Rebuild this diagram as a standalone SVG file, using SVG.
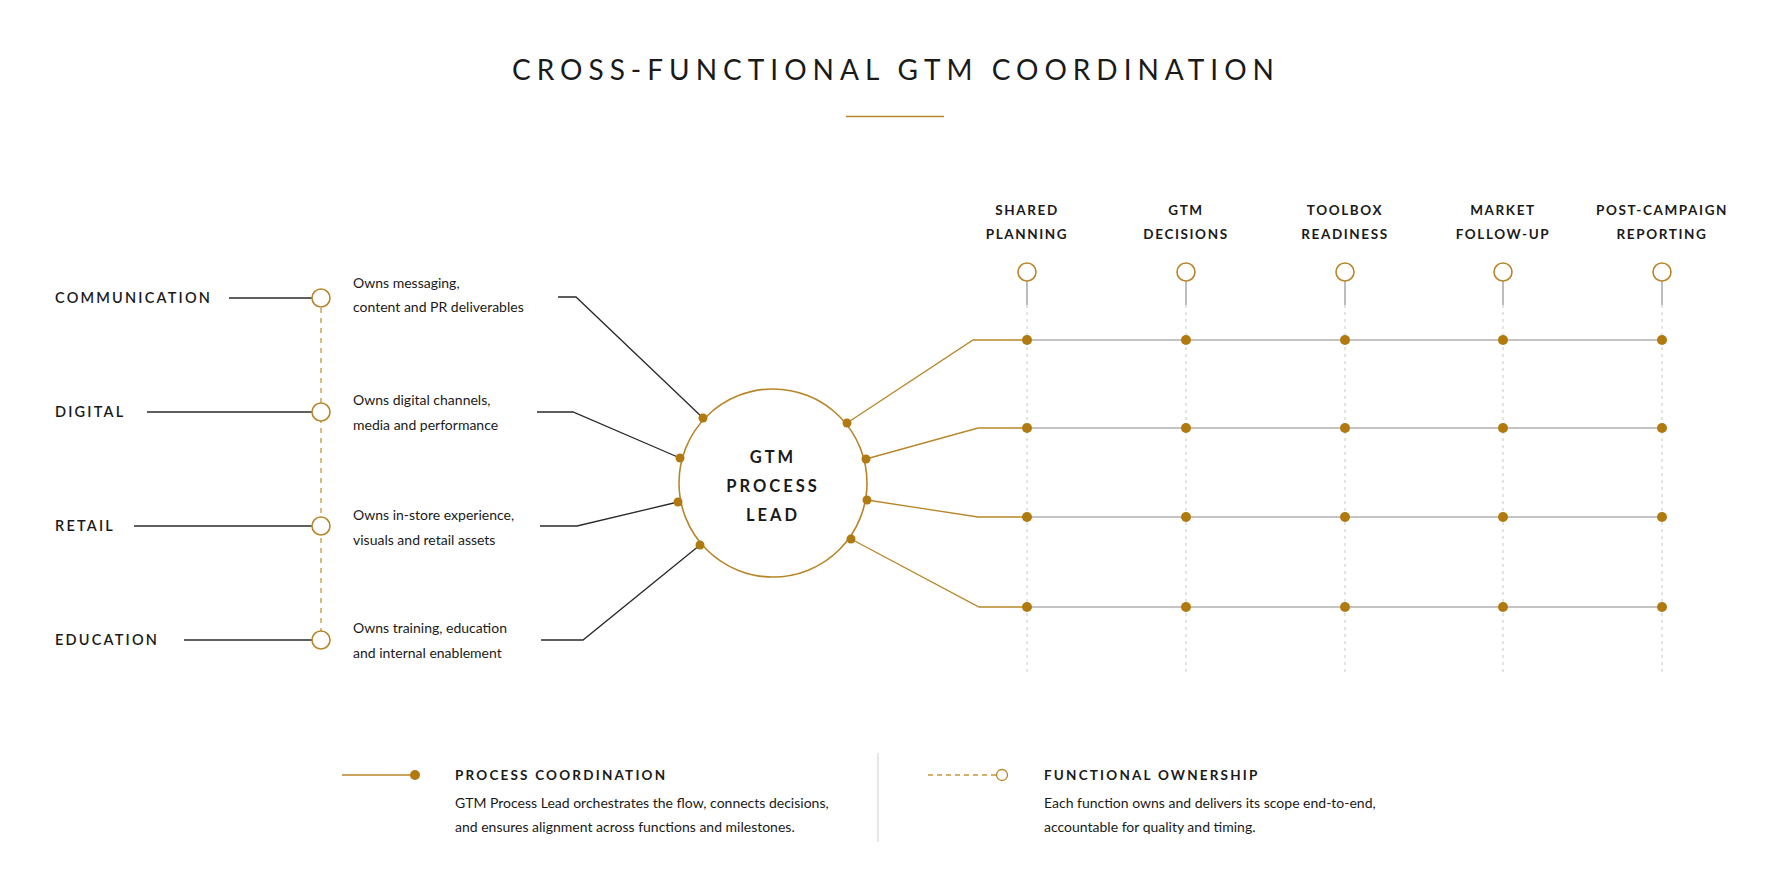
<svg xmlns="http://www.w3.org/2000/svg" width="1774" height="887" viewBox="0 0 1774 887">
<style>
text{font-family:Lato,"Open Sans","Liberation Sans",sans-serif;fill:#1a1a1a}
.lab{font-size:14.5px;font-weight:600;letter-spacing:2.2px}
.hd{font-size:13.5px;font-weight:700;letter-spacing:1.6px;text-anchor:middle}
.ds{font-size:14px}
.blk{stroke:#2a2a2a;stroke-width:1.3;fill:none}
.gold{stroke:#b8862a;stroke-width:1.3;fill:none}
.grey{stroke:#c4c4c4;stroke-width:2;fill:none}
.gdash{stroke:#c8c8c8;stroke-width:1;stroke-dasharray:3 4;fill:none}
.oc{fill:#fff;stroke:#b8862a;stroke-width:1.6}
.dot{fill:#b07a10}
</style>
<rect width="1774" height="887" fill="#fff"/>
<text x="896" y="80" text-anchor="middle" style="font-size:28px;letter-spacing:6px;font-weight:400">CROSS-FUNCTIONAL GTM COORDINATION</text>
<line x1="846" y1="116.5" x2="944" y2="116.5" stroke="#b8862a" stroke-width="1.5"/>
<g id="connectors">
<line x1="321" y1="298" x2="321" y2="640" stroke="#c9953a" stroke-width="1.3" stroke-dasharray="5 5"/>
<line class="blk" x1="229" y1="298" x2="312" y2="298"/>
<line class="blk" x1="147" y1="412" x2="312" y2="412"/>
<line class="blk" x1="134" y1="526" x2="312" y2="526"/>
<line class="blk" x1="184" y1="640" x2="312" y2="640"/>
<polyline class="blk" points="558,297 576,297 703,418"/>
<polyline class="blk" points="537,412 573,412 680,458"/>
<polyline class="blk" points="540,526 577,526 678,502"/>
<polyline class="blk" points="541,640 583,640 700,545"/>
<polyline class="gold" points="847,423 973,340 1027,340"/>
<polyline class="gold" points="866,459 978,428 1027,428"/>
<polyline class="gold" points="867,500 978,517 1027,517"/>
<polyline class="gold" points="851,539 979,607 1027,607"/>
<g class="gdash"><line x1="1027" y1="305" x2="1027" y2="673"/><line x1="1186" y1="305" x2="1186" y2="673"/><line x1="1345" y1="305" x2="1345" y2="673"/><line x1="1503" y1="305" x2="1503" y2="673"/><line x1="1662" y1="305" x2="1662" y2="673"/></g>
<g stroke="#9a9a9a" stroke-width="1.3"><line x1="1027" y1="281" x2="1027" y2="305"/><line x1="1186" y1="281" x2="1186" y2="305"/><line x1="1345" y1="281" x2="1345" y2="305"/><line x1="1503" y1="281" x2="1503" y2="305"/><line x1="1662" y1="281" x2="1662" y2="305"/></g>
<line class="grey" x1="1027" y1="340" x2="1662" y2="340"/>
<line class="grey" x1="1027" y1="428" x2="1662" y2="428"/>
<line class="grey" x1="1027" y1="517" x2="1662" y2="517"/>
<line class="grey" x1="1027" y1="607" x2="1662" y2="607"/>
</g>
<g id="functions">
<text class="lab" x="55" y="303">COMMUNICATION</text>
<text class="lab" x="55" y="417">DIGITAL</text>
<text class="lab" x="55" y="531">RETAIL</text>
<text class="lab" x="55" y="645">EDUCATION</text>
<circle class="oc" cx="321" cy="298" r="9"/><circle class="oc" cx="321" cy="412" r="9"/><circle class="oc" cx="321" cy="526" r="9"/><circle class="oc" cx="321" cy="640" r="9"/>
<text class="ds" x="353" y="288">Owns messaging,</text><text class="ds" x="353" y="312">content and PR deliverables</text>
<text class="ds" x="353" y="405">Owns digital channels,</text><text class="ds" x="353" y="430">media and performance</text>
<text class="ds" x="353" y="520">Owns in-store experience,</text><text class="ds" x="353" y="545">visuals and retail assets</text>
<text class="ds" x="353" y="633">Owns training, education</text><text class="ds" x="353" y="658">and internal enablement</text>
</g>
<g id="lead">
<circle cx="773" cy="483" r="94" fill="#fff" stroke="#b8862a" stroke-width="1.6"/>
<text x="773" y="463" text-anchor="middle" style="font-size:16.5px;font-weight:700;letter-spacing:3px">GTM</text>
<text x="773" y="492" text-anchor="middle" style="font-size:16.5px;font-weight:700;letter-spacing:3px">PROCESS</text>
<text x="773" y="521" text-anchor="middle" style="font-size:16.5px;font-weight:700;letter-spacing:3px">LEAD</text>
<g class="dot"><circle cx="703" cy="418" r="4.5"/><circle cx="680" cy="458" r="4.5"/><circle cx="678" cy="502" r="4.5"/><circle cx="700" cy="545" r="4.5"/><circle cx="847" cy="423" r="4.5"/><circle cx="866" cy="459" r="4.5"/><circle cx="867" cy="500" r="4.5"/><circle cx="851" cy="539" r="4.5"/></g>
</g>
<g id="milestones">
<text class="hd" x="1027" y="215">SHARED</text><text class="hd" x="1027" y="239">PLANNING</text>
<text class="hd" x="1186" y="215">GTM</text><text class="hd" x="1186" y="239">DECISIONS</text>
<text class="hd" x="1345" y="215">TOOLBOX</text><text class="hd" x="1345" y="239">READINESS</text>
<text class="hd" x="1503" y="215">MARKET</text><text class="hd" x="1503" y="239">FOLLOW-UP</text>
<text class="hd" x="1662" y="215">POST-CAMPAIGN</text><text class="hd" x="1662" y="239">REPORTING</text>
<circle class="oc" cx="1027" cy="272" r="9"/><circle class="oc" cx="1186" cy="272" r="9"/><circle class="oc" cx="1345" cy="272" r="9"/><circle class="oc" cx="1503" cy="272" r="9"/><circle class="oc" cx="1662" cy="272" r="9"/>
<g class="dot">
<circle cx="1027" cy="340" r="5"/><circle cx="1186" cy="340" r="5"/><circle cx="1345" cy="340" r="5"/><circle cx="1503" cy="340" r="5"/><circle cx="1662" cy="340" r="5"/>
<circle cx="1027" cy="428" r="5"/><circle cx="1186" cy="428" r="5"/><circle cx="1345" cy="428" r="5"/><circle cx="1503" cy="428" r="5"/><circle cx="1662" cy="428" r="5"/>
<circle cx="1027" cy="517" r="5"/><circle cx="1186" cy="517" r="5"/><circle cx="1345" cy="517" r="5"/><circle cx="1503" cy="517" r="5"/><circle cx="1662" cy="517" r="5"/>
<circle cx="1027" cy="607" r="5"/><circle cx="1186" cy="607" r="5"/><circle cx="1345" cy="607" r="5"/><circle cx="1503" cy="607" r="5"/><circle cx="1662" cy="607" r="5"/>
</g>
</g>
<g id="legend">
<line class="gold" x1="342" y1="775" x2="415" y2="775"/><circle class="dot" cx="415" cy="775" r="5"/>
<text class="lab" x="455" y="780" style="font-size:13.5px;font-weight:700">PROCESS COORDINATION</text>
<text class="ds" x="455" y="808">GTM Process Lead orchestrates the flow, connects decisions,</text>
<text class="ds" x="455" y="832">and ensures alignment across functions and milestones.</text>
<line x1="878" y1="753" x2="878" y2="842" stroke="#cfcfcf" stroke-width="1"/>
<line x1="928" y1="775" x2="996" y2="775" stroke="#c9953a" stroke-width="1.3" stroke-dasharray="5 4"/>
<circle class="oc" cx="1002" cy="775" r="5.5" style="stroke-width:1.3"/>
<text class="lab" x="1044" y="780" style="font-size:13.5px;font-weight:700">FUNCTIONAL OWNERSHIP</text>
<text class="ds" x="1044" y="808">Each function owns and delivers its scope end-to-end,</text>
<text class="ds" x="1044" y="832">accountable for quality and timing.</text>
</g>
</svg>
